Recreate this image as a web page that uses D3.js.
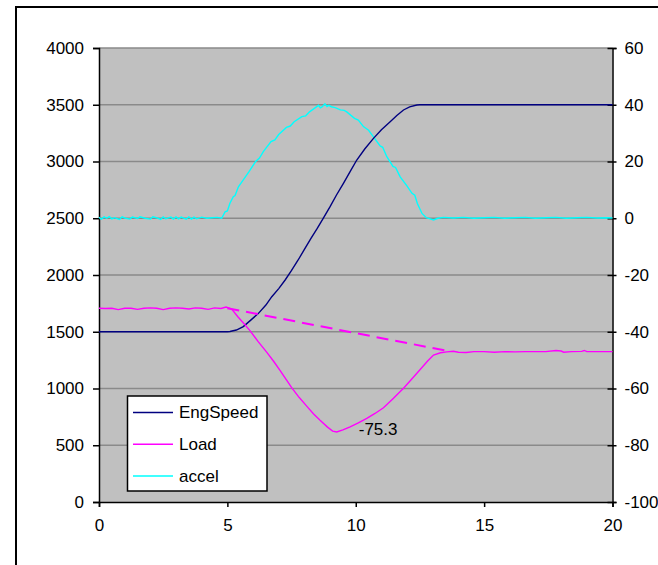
<!DOCTYPE html>
<html>
<head>
<meta charset="utf-8">
<script src="https://cdn.jsdelivr.net/npm/d3@7/dist/d3.min.js"></script>
<style>
  html, body { margin: 0; padding: 0; background: #fff; }
  svg text { font-family: "Liberation Sans", Arial, sans-serif; fill: #000; }
</style>
</head>
<body>
<script>
// ---------- DATA ----------
const xTicks = [0, 5, 10, 15, 20];
const leftTicks = [0, 500, 1000, 1500, 2000, 2500, 3000, 3500, 4000];
const rightTicks = [-100, -80, -60, -40, -20, 0, 20, 40, 60];
const seriesNames = ["EngSpeed", "Load", "accel"];

const engSpeed = [
  [0,1500],[5.0,1500],[5.1,1502],[5.35,1515],[5.62,1545],[5.9,1600],[6.21,1662],[6.5,1735],
  [6.73,1809],[7.0,1880],[7.25,1956],[7.5,2040],[7.75,2130],[8.0,2225],[8.25,2320],[8.5,2410],
  [8.75,2505],[9.0,2602],[9.25,2705],[9.52,2808],[9.78,2910],[10.04,3013],[10.35,3110],
  [10.69,3204],[11.0,3280],[11.34,3351],[11.6,3405],[11.86,3454],[12.1,3482],[12.38,3498],
  [12.5,3500],[20,3500]
];

const load = [
  [0,-31.7],[0.25,-31.8],[0.5,-31.7],[0.75,-32.2],[1.0,-31.7],[1.25,-31.7],[1.5,-32.1],
  [1.75,-31.7],[2.0,-31.6],[2.25,-31.7],[2.5,-32.2],[2.75,-31.7],[3.0,-31.6],[3.25,-31.7],
  [3.5,-32.0],[3.75,-31.6],[4.0,-31.7],[4.25,-32.1],[4.5,-31.6],[4.75,-31.8],[4.95,-31.3],
  [5.17,-32],[5.4,-34.6],[5.65,-37.2],[5.88,-39.6],[6.2,-43.5],[6.53,-47.2],[6.8,-50.4],
  [7.05,-53.6],[7.3,-57],[7.51,-59.8],[7.8,-63.2],[8.09,-66.2],[8.35,-68.9],[8.61,-71.2],
  [8.9,-73.6],[9.1,-75],[9.26,-75.3],[9.5,-74.6],[9.78,-73.5],[10.1,-72.1],[10.43,-70.5],
  [10.75,-68.8],[11.08,-66.8],[11.45,-63.6],[11.86,-59.9],[12.2,-56.5],[12.51,-53.3],
  [12.8,-50.3],[13.03,-48.2],[13.3,-47.4],[13.55,-47.1],[13.8,-46.9],[14.0,-47.2],
  [14.3,-47.3],[14.6,-47.0],[15,-47.0],[15.4,-47.2],[15.8,-47.0],[16.2,-47.1],[16.6,-47.0],
  [17,-47.0],[17.4,-47.0],[17.8,-46.6],[18.0,-46.8],[18.1,-47.2],[18.4,-47.0],[18.8,-46.9],
  [18.9,-46.6],[19.0,-47.0],[19.5,-47.0],[20,-47.0]
];

const loadTrend = [[5.0,-31.7],[13.6,-46.8]];

const accel = [
  [0,0.3],[0.1,-0.3],[0.2,0.5],[0.3,0],[0.4,0.6],[0.5,-0.2],[0.6,0.2],[0.8,-0.4],[0.9,0.5],
  [1.0,0.1],[1.2,-0.3],[1.3,0.4],[1.5,-0.1],[1.6,0.5],[1.8,0],[2.0,-0.3],[2.1,0.5],[2.3,0],
  [2.4,-0.4],[2.5,0.5],[2.6,-0.2],[2.8,0.4],[2.9,-0.3],[3.0,0.5],[3.1,-0.2],[3.2,0.4],
  [3.4,-0.3],[3.5,0.5],[3.6,-0.3],[3.7,0.4],[3.8,-0.2],[4.0,0.4],[4.2,0],[4.4,0.2],[4.6,0.3],[4.78,0],
  [4.91,2.3],[5.0,2.6],[5.1,5.3],[5.23,7.6],[5.3,8.0],[5.43,11.1],[5.62,13.5],[5.85,16.5],
  [6.1,20],[6.25,21.2],[6.4,23.5],[6.7,27],[6.85,27.6],[7.0,29.5],[7.3,32],[7.45,32.5],
  [7.6,34],[7.9,35.8],[8.05,36.1],[8.2,37.5],[8.4,38.8],[8.55,39.8],[8.62,38.9],[8.7,39.3],
  [8.8,40.3],[8.88,39.4],[8.95,39.8],[9.05,39.3],[9.2,39],[9.4,38.2],[9.55,38],[9.65,37.5],
  [9.95,35.2],[10.1,34.6],[10.3,32.3],[10.5,31],[10.69,28.7],[10.95,25.5],[11.05,25],
  [11.21,21.7],[11.45,18.3],[11.55,17.9],[11.73,14.6],[12.0,11.3],[12.19,8.8],[12.3,8.1],
  [12.4,5.2],[12.58,1.7],[12.75,0.2],[13.03,-0.6],[13.2,0],[13.42,0.3],
  [13.8,0.1],[14.2,0.3],[14.6,0],[15.0,0.2],[15.4,0.3],[15.8,0],[16.2,0.2],[16.6,0.3],
  [17.0,0],[17.4,0.2],[17.8,0.3],[18.2,0],[18.6,0.2],[19.0,0.3],[19.4,0.1],[19.8,0.2],[20,0.1]
];

const annotation = { t: 9.26, v: -75.3, text: "-75.3" };

// ---------- CHART ----------
const W = 658, H = 565;
const plot = { left: 99, right: 612.5, top: 48, bottom: 502 };
const colors = { EngSpeed: "#000080", Load: "#ff00ff", accel: "#00ffff" };
const FONT = 17;
const fmt = d => String(d);

const svg = d3.select("body").append("svg").attr("width", W).attr("height", H);

// outer border
svg.append("rect").attr("x", 16).attr("y", 7).attr("width", 700).attr("height", 620)
  .attr("fill", "#fff").attr("stroke", "#000").attr("stroke-width", 2);

const x = d3.scaleLinear().domain([0, 20]).range([plot.left, plot.right]);
const yL = d3.scaleLinear().domain([0, 4000]).range([plot.bottom, plot.top]);
const yR = d3.scaleLinear().domain([-100, 60]).range([plot.bottom, plot.top]);

// plot background
svg.append("rect").attr("x", plot.left).attr("y", plot.top)
  .attr("width", plot.right - plot.left).attr("height", plot.bottom - plot.top)
  .attr("fill", "#c0c0c0");

// gridlines
svg.append("g").selectAll("line").data(leftTicks.filter(d => d > 0)).join("line")
  .attr("x1", plot.left).attr("x2", plot.right)
  .attr("y1", d => yL(d)).attr("y2", d => yL(d))
  .attr("stroke", "#8a8a8a").attr("stroke-width", 1.5);

// axes
const axL = svg.append("g").attr("transform", `translate(${plot.left},0)`)
  .call(d3.axisLeft(yL).tickValues(leftTicks).tickSize(6).tickPadding(9).tickFormat(fmt));
const axR = svg.append("g").attr("transform", `translate(${plot.right},0)`)
  .call(d3.axisRight(yR).tickValues(rightTicks).tickSize(4).tickPadding(8).tickFormat(fmt));
const axB = svg.append("g").attr("transform", `translate(0,${plot.bottom})`)
  .call(d3.axisBottom(x).tickValues(xTicks).tickSize(5).tickPadding(12).tickFormat(fmt));

[axL, axR, axB].forEach(g => {
  g.select(".domain").attr("stroke", "#000").attr("stroke-width", 1.5);
  g.selectAll(".tick line").attr("stroke", "#000").attr("stroke-width", 1.5);
  g.selectAll(".tick text").attr("font-size", FONT).attr("fill", "#000")
    .attr("font-family", '"Liberation Sans", Arial, sans-serif');
});
// right ticks cross the axis
axR.selectAll(".tick line").attr("x1", -5).attr("x2", 4);

// lines
const lineL = d3.line().x(d => x(d[0])).y(d => yL(d[1]));
const lineR = d3.line().x(d => x(d[0])).y(d => yR(d[1]));

svg.append("path").datum(accel).attr("d", lineR).attr("fill", "none")
  .attr("stroke", colors.accel).attr("stroke-width", 1.4);
svg.append("path").datum(engSpeed).attr("d", lineL).attr("fill", "none")
  .attr("stroke", colors.EngSpeed).attr("stroke-width", 1.4);
svg.append("path").datum(load).attr("d", lineR).attr("fill", "none")
  .attr("stroke", colors.Load).attr("stroke-width", 1.4);
svg.append("path").datum(loadTrend).attr("d", lineR).attr("fill", "none")
  .attr("stroke", colors.Load).attr("stroke-width", 2).attr("stroke-dasharray", "12,7");

// annotation
svg.append("text").attr("x", x(annotation.t) + 22).attr("y", yR(annotation.v) - 2)
  .attr("dominant-baseline", "central").attr("font-size", FONT).text(annotation.text);

// legend
const lg = svg.append("g");
lg.append("rect").attr("x", 127.5).attr("y", 396).attr("width", 139.5).attr("height", 95)
  .attr("fill", "#fff").attr("stroke", "#000").attr("stroke-width", 1.5);
const legendY = d3.scalePoint().domain(seriesNames).range([412.5, 476]);
seriesNames.forEach(n => {
  lg.append("line").attr("x1", 133).attr("x2", 173)
    .attr("y1", legendY(n)).attr("y2", legendY(n))
    .attr("stroke", colors[n]).attr("stroke-width", 1.6);
  lg.append("text").attr("x", 179).attr("y", legendY(n))
    .attr("dominant-baseline", "central").attr("font-size", FONT).text(n);
});
</script>
</body>
</html>
